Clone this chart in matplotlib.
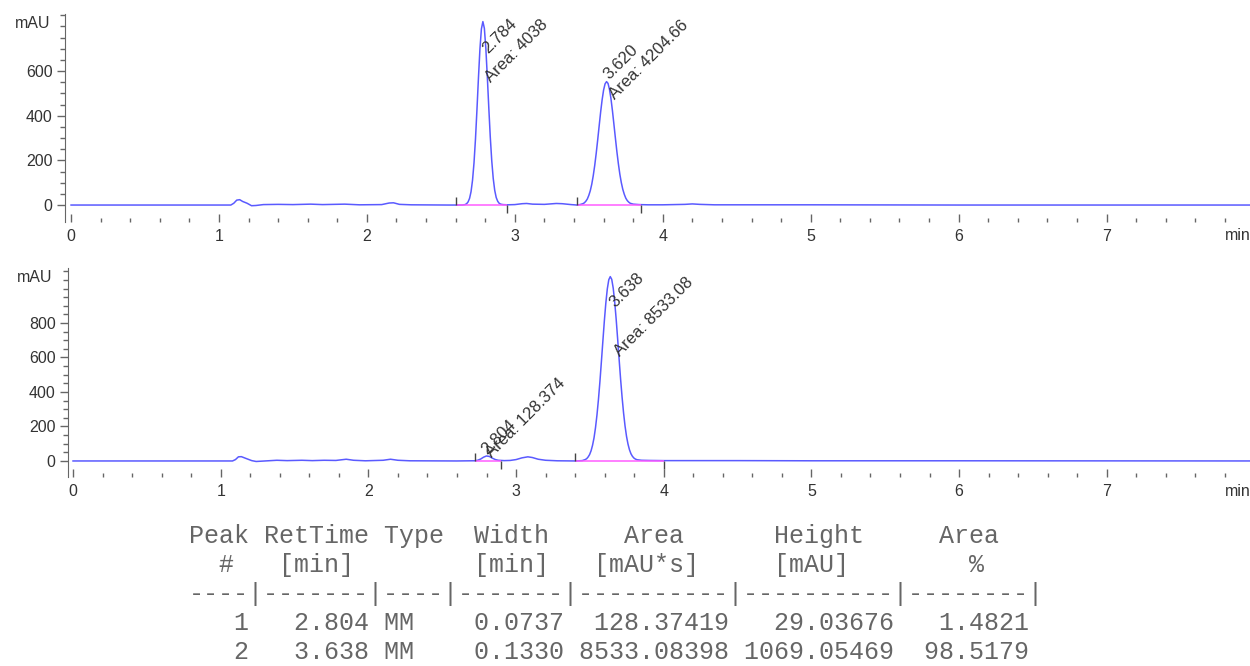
import matplotlib
matplotlib.use('Agg')
import matplotlib.pyplot as plt
from matplotlib.ticker import MultipleLocator, FixedLocator

plt.rcParams['font.family'] = ['Liberation Sans', 'DejaVu Sans']

# --- run 1 (racemate) : time [min] / signal [mAU]
time_top = [0.00, 1.08, 1.10, 1.12, 1.14, 1.16, 1.19, 1.22, 1.25, 1.30,
            1.40, 1.50, 1.62, 1.70, 1.85, 1.95, 2.10, 2.15, 2.18, 2.22,
            2.30, 2.55, 2.644, 2.664, 2.674, 2.684, 2.694, 2.704, 2.714, 2.724,
            2.734, 2.744, 2.754, 2.764, 2.774, 2.784, 2.794, 2.804, 2.814, 2.824,
            2.834, 2.844, 2.854, 2.864, 2.874, 2.884, 2.894, 2.904, 2.92, 2.95,
            3.00, 3.05, 3.08, 3.12, 3.20, 3.28, 3.32, 3.38, 3.42, 3.44,
            3.46, 3.47, 3.48, 3.49, 3.50, 3.51, 3.52, 3.53, 3.54, 3.55,
            3.56, 3.57, 3.58, 3.59, 3.60, 3.61, 3.62, 3.63, 3.64, 3.65,
            3.66, 3.67, 3.68, 3.69, 3.70, 3.71, 3.72, 3.73, 3.74, 3.75,
            3.76, 3.77, 3.78, 3.80, 3.84, 3.90, 4.00, 4.15, 4.20, 4.25,
            4.35, 5.00, 6.00, 8.00]
mau_top = [0, 0, 8, 22, 24, 16, 8, -3, -2, 2,
           3, 2, 4, 2, 4, 1, 2, 9, 10, 3,
           1, 0, 0, 2, 6, 14, 30, 60, 111, 189,
           296, 428, 569, 698, 789, 822, 792, 702, 575, 436,
           305, 198, 119, 66, 34, 17, 8, 4, 2, 1,
           2, 6, 7, 4, 3, 7, 6, 2, 0, 2,
           6, 10, 17, 27, 43, 64, 93, 131, 177, 231,
           291, 354, 416, 471, 515, 543, 553, 545, 518, 476,
           422, 361, 299, 239, 185, 138, 100, 70, 48, 31,
           20, 13, 8, 4, 2, 1, 1, 3, 5, 3,
           1, 1, 0, 0]
peak_start_top = [2.60, 3.42]
peak_end_top = [2.95, 3.85]
labels_top = ['2.784', 'Area: 4038', '3.620', 'Area: 4204.66']

# --- run 2 (enriched sample)
time_bot = [0.00, 1.08, 1.10, 1.12, 1.14, 1.17, 1.21, 1.24, 1.30, 1.38,
            1.45, 1.55, 1.62, 1.70, 1.78, 1.85, 1.90, 1.98, 2.10, 2.15,
            2.20, 2.28, 2.60, 2.70, 2.72, 2.74, 2.76, 2.78, 2.80, 2.82,
            2.84, 2.86, 2.88, 2.92, 2.96, 3.00, 3.04, 3.08, 3.11, 3.15,
            3.20, 3.28, 3.40, 3.448, 3.468, 3.478, 3.488, 3.498, 3.508, 3.518,
            3.528, 3.538, 3.548, 3.558, 3.568, 3.578, 3.588, 3.598, 3.608, 3.618,
            3.628, 3.638, 3.648, 3.658, 3.668, 3.678, 3.688, 3.698, 3.708, 3.718,
            3.728, 3.738, 3.748, 3.758, 3.768, 3.778, 3.788, 3.798, 3.808, 3.82,
            3.85, 3.90, 4.00, 4.50, 5.00, 6.00, 8.00]
mau_bot = [0, 0, 8, 24, 25, 15, 2, -3, 0, 4,
           2, 4, 2, 4, 3, 10, 4, 1, 4, 10,
           4, 1, 0, 1, 1, 4, 11, 22, 29, 26,
           16, 8, 4, 2, 3, 8, 18, 24, 20, 10,
           4, 1, 0, 2, 8, 13, 23, 37, 59, 91,
           134, 193, 267, 357, 461, 577, 696, 813, 916, 998,
           1051, 1069, 1053, 1002, 922, 822, 707, 589, 474, 370,
           279, 203, 143, 98, 65, 42, 27, 17, 11, 7,
           4, 3, 2, 2, 1, 1, 0]
peak_start_bot = [2.72, 3.40]
peak_end_bot = [2.90, 4.00]
labels_bot = ['2.804', 'Area: 128.374', '3.638', 'Area: 8533.08']

# peak table
table_rows = [
    'Peak RetTime Type  Width     Area      Height     Area  ',
    '  #   [min]        [min]   [mAU*s]     [mAU]        %   ',
    '----|-------|----|-------|----------|----------|--------|',
    '   1   2.804 MM    0.0737  128.37419   29.03676   1.4821',
    '   2   3.638 MM    0.1330 8533.08398 1069.05469  98.5179',
]

# label anchor points (baseline start of rotated text), in data units
label_pos_top = [(2.817, 676), (2.838, 548), (3.640, 560), (3.678, 471)]
label_pos_bot = [(2.805, 35), (2.839, 17), (3.672, 885), (3.706, 605)]

W, H = 1250, 666
blue = '#5a5aff'
pink = '#ff5cff'
axcol = '#666666'
txtcol = '#333333'

fig = plt.figure(figsize=(W / 100, H / 100), dpi=100)


def panel(rect, t, y, starts, ends, labels, lpos, ylim, xlim, ymajor):
    ax = fig.add_axes(rect)
    ax.plot(t, y, color=blue, lw=1.1, zorder=2)
    ax.hlines([0] * len(starts), starts, ends, color=pink, lw=1.1, zorder=3)
    ax.plot(starts, [0] * len(starts), ls='none', marker=2, ms=6, mew=1,
            color='#444444', zorder=4)
    ax.plot(ends, [0] * len(ends), ls='none', marker=3, ms=6, mew=1,
            color='#444444', zorder=4)
    for txt, (x, yy) in zip(labels, lpos):
        ax.text(x, yy, txt, rotation=45, rotation_mode='anchor', ha='left',
                va='baseline', fontsize=12, color=txtcol)
    ax.set_xlim(*xlim)
    ax.set_ylim(*ylim)
    for s in ['top', 'right', 'bottom']:
        ax.spines[s].set_visible(False)
    ax.spines['left'].set_color(axcol)
    ax.xaxis.set_major_locator(FixedLocator(range(0, 8)))
    ax.xaxis.set_minor_locator(MultipleLocator(0.2))
    ax.yaxis.set_major_locator(FixedLocator(ymajor))
    ax.yaxis.set_minor_locator(FixedLocator(range(0, int(ylim[1]), 50)))
    ax.tick_params(axis='x', which='major', direction='in', length=6,
                   width=1, color=axcol, labelsize=11.5, labelcolor=txtcol,
                   pad=5)
    ax.tick_params(axis='x', which='minor', direction='in', length=3,
                   width=1, color=axcol)
    ax.tick_params(axis='y', which='major', direction='out', length=6,
                   width=1, color=axcol, labelsize=11.5, labelcolor=txtcol,
                   pad=3)
    ax.tick_params(axis='y', which='minor', direction='out', length=3.5,
                   width=1, color=axcol)
    return ax


ax1 = panel([65 / W, 1 - 222 / H, 1 - 65 / W, (222 - 14) / H],
            time_top, mau_top, peak_start_top, peak_end_top,
            labels_top, label_pos_top, (-76, 856), (-0.041, 7.97),
            [0, 200, 400, 600])
ax2 = panel([68 / W, 1 - 477 / H, 1 - 68 / W, (477 - 268) / H],
            time_bot, mau_bot, peak_start_bot, peak_end_bot,
            labels_bot, label_pos_bot, (-93, 1119), (-0.034, 7.97),
            [0, 200, 400, 600, 800])

# unit labels
fig.text(50 / W, 1 - 23 / H, 'mAU', ha='right', va='center', fontsize=11.5,
         color=txtcol)
fig.text(52 / W, 1 - 278 / H, 'mAU', ha='right', va='center', fontsize=11.5,
         color=txtcol)
fig.text(1251 / W, 1 - 236 / H, 'min', ha='right', va='center', fontsize=11.5,
         color=txtcol)
fig.text(1251 / W, 1 - 491 / H, 'min', ha='right', va='center', fontsize=11.5,
         color=txtcol)

# peak table in report font
for i, row in enumerate(table_rows):
    fig.text(189 / W, 1 - (536 + i * 29.0) / H, row, ha='left', va='center',
             family='Liberation Mono', fontsize=18, color='#666666')

fig.savefig('out.png', dpi=100)
